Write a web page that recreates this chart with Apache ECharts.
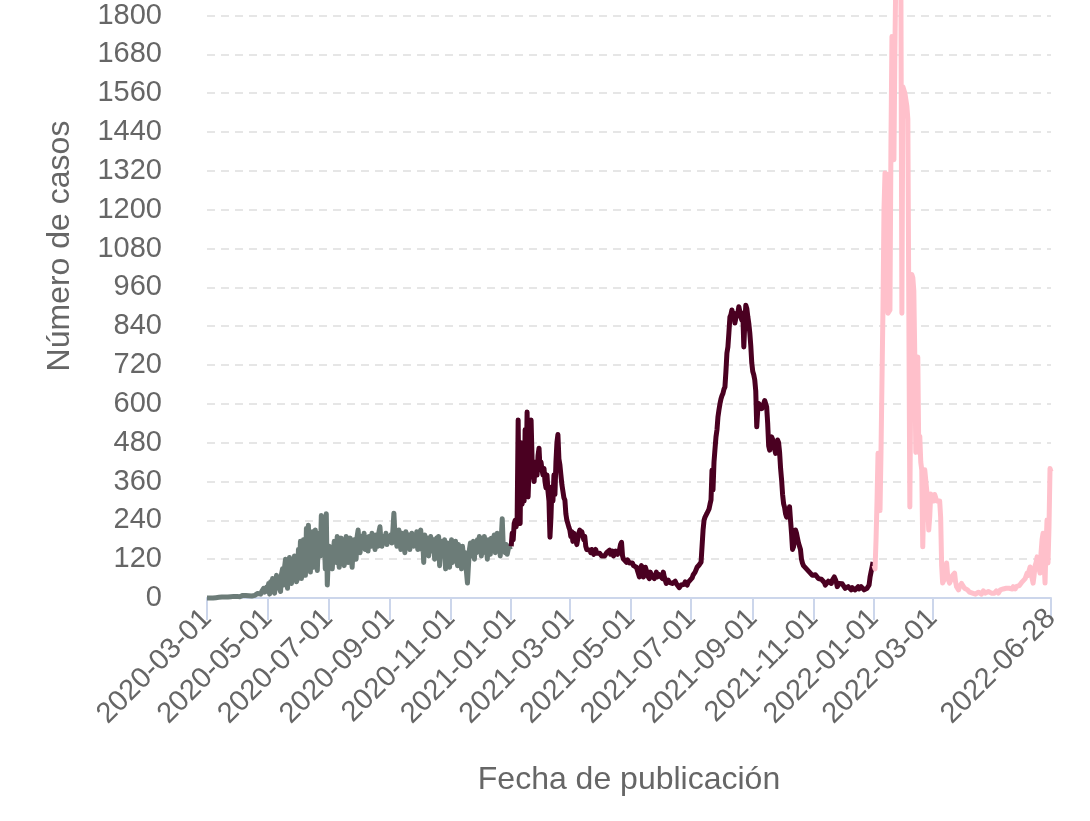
<!DOCTYPE html>
<html><head><meta charset="utf-8">
<script src="https://cdn.jsdelivr.net/npm/echarts@6/dist/echarts.min.js"></script>
<style>html,body{margin:0;padding:0;background:#fff}#c{width:1090px;height:821px}</style>
</head><body><div id="c"></div>
<script>
// ---- data (daily cases) ----
const startDate = '2020-03-01';
const tickLabels = ['2020-03-01','2020-05-01','2020-07-01','2020-09-01','2020-11-01','2021-01-01','2021-03-01','2021-05-01','2021-07-01','2021-09-01','2021-11-01','2022-01-01','2022-03-01','2022-06-28'];
const yMin = 0, yMax = 1800, yStep = 120;

// segment 1 (grey): 2020-03-01 .. 2020-12-31
const mar20 = [0,0,0,0,0,0,0,1,0,1,1,1,2,1,2,3,2,3,3,2,4,3,4,5,4,5,6,5,4,6,5];
const apr20 = [5,6,4,7,6,8,5,7,8,6,9,7,10,8,6,9,11,8,12,10,14,9,16,12,20,14,30,18,15,34];
const may20 = [20,45,12,50,30,60,25,15,55,70,35,60,28,20,75,90,40,95,120,60,30,110,125,70,45,100,80,130,110,50,60];
const jun20 = [150,90,175,60,120,180,100,70,215,140,225,110,80,190,205,95,150,210,120,85,180,200,130,255,140,250,180,90,260,40];
const jul20 = [120,160,100,150,90,140,175,165,110,190,130,95,150,185,170,120,100,160,190,140,110,175,185,130,95,150,180,160,120,190,210];
const aug20 = [170,140,190,160,180,200,150,165,185,145,190,175,160,200,170,180,150,195,185,160,205,220,175,160,190,170,180,200,165,185,175];
const sep20 = [180,195,170,210,262,200,185,160,175,210,190,150,200,170,190,140,205,180,165,195,150,185,200,170,160,190,175,205,150,185];
const oct20 = [200,210,150,180,110,195,170,160,185,130,175,190,145,165,180,120,170,185,150,190,100,140,175,160,130,180,90,150,170,120,95];
const nov20 = [140,180,110,160,130,175,150,100,165,120,150,90,160,130,110,140,80,46,100,150,170,130,160,175,120,165,140,180,150,190];
const dec20 = [160,130,175,150,190,140,165,120,180,155,135,185,150,170,195,140,160,200,150,175,130,185,245,160,150,140,165,135,150,160,150];

// segment 2 (maroon): 2021-01-01 .. 2021-12-31
const jan21 = [160,200,180,230,240,220,250,550,260,230,480,290,350,300,520,380,575,312,400,480,550,430,386,360,400,420,380,440,463,400,420];
const feb21 = [395,380,400,360,340,380,330,300,188,250,343,300,380,320,420,480,505,430,411,380,350,330,310,303,260,240,230,219];
const mar21 = [210,190,205,175,200,195,180,165,170,200,210,195,205,200,180,190,160,150,145,155,148,140,150,145,135,140,150,138,142,135,138];
const apr21 = [140,130,135,125,130,127,140,145,140,148,135,140,145,130,138,145,140,135,130,150,165,172,130,120,117,115,110,118,112,108];
const may21 = [110,105,108,100,104,98,95,100,75,65,90,100,80,65,70,95,85,70,75,60,80,70,65,75,60,70,80,65,60,72,75];
const jun21 = [70,60,80,65,55,45,50,55,48,42,50,45,40,48,52,45,40,45,32,28,40,45,38,42,50,45,40,48,52,55];
const jul21 = [55,62,71,68,80,85,95,100,102,108,111,115,210,240,250,255,262,258,275,290,303,395,334,420,460,498,520,560,581,600,615];
const aug21 = [625,632,645,652,700,757,776,820,868,875,890,870,880,850,865,859,880,900,885,870,859,880,776,850,905,895,870,849,820,780,726];
const sep21 = [700,690,674,640,529,580,601,595,600,585,591,600,610,612,590,540,470,457,480,498,490,470,460,447,470,488,480,450,400,365];
const oct21 = [320,292,280,260,250,270,255,282,240,200,150,158,190,210,200,185,170,175,150,120,108,100,105,94,90,85,88,80,78,75,70];
const nov21 = [65,70,72,74,68,60,62,56,58,55,56,48,40,35,45,52,56,50,45,55,60,65,58,50,35,38,45,50,46,44];
const dec21 = [46,40,30,25,28,35,38,30,25,32,28,35,25,22,30,35,28,32,35,30,38,25,20,24,30,35,40,65,80,95,111];

// segment 3 (pink): 2022-01-01 .. 2022-06-28
const jan22 = [100,90,180,300,447,440,270,450,447,900,1200,1313,1300,1310,880,880,890,1400,1735,1700,1354,1700,1950,1920,2000,1980,1950,1900,880,1580,1570];
const feb22 = [1560,1540,1520,1480,880,281,700,1000,990,950,745,450,600,745,450,500,420,396,158,300,396,390,396,300,210,250,321,320];
const mar22 = [321,300,320,310,300,305,300,300,250,100,46,50,60,80,108,70,55,46,50,60,70,75,77,50,35,30,25,35,40,45,46];
const apr22 = [40,30,25,30,25,20,18,15,12,15,20,18,12,10,15,18,20,15,12,18,22,20,15,12,18,20,25,18,15,20];
const may22 = [18,15,20,22,18,15,20,25,22,20,28,25,22,30,28,25,30,35,32,28,35,30,28,35,32,30,38,35,40,50,56];
const jun22 = [50,60,65,77,70,85,96,80,60,46,70,100,110,127,100,90,77,140,180,200,120,46,160,241,108,220,400,390];

const seg1 = [].concat(mar20,apr20,may20,jun20,jul20,aug20,sep20,oct20,nov20,dec20);
const seg2 = [].concat(jan21,feb21,mar21,apr21,may21,jun21,jul21,aug21,sep21,oct21,nov21,dec21);
const seg3 = [].concat(jan22,feb22,mar22,apr22,may22,jun22);

// ---- build ----
const total = seg1.length + seg2.length + seg3.length;
const t0 = Date.UTC(2020, 2, 1);
const dates = [];
for (let i = 0; i < total; i++) dates.push(new Date(t0 + i * 86400000).toISOString().slice(0, 10));
const nulls = n => new Array(n).fill(null);
const d1 = seg1.concat(nulls(total - seg1.length));
const d2 = nulls(seg1.length).concat(seg2, nulls(seg3.length));
const d3 = nulls(seg1.length + seg2.length).concat(seg3);
const tickSet = new Set(tickLabels);
const showTick = (idx, val) => tickSet.has(val);

const FONT = 'Liberation Sans, Arial, Helvetica, sans-serif';
const chart = echarts.init(document.getElementById('c'), null, {renderer: 'canvas'});
const mk = (name, data, color) => ({
  name, type: 'line', data, showSymbol: false, symbol: 'none', connectNulls: false, clip: false,
  lineStyle: {color, width: 5, join: 'round'}, itemStyle: {color}, z: 3, animation: false
});
chart.setOption({
  animation: false,
  backgroundColor: '#ffffff',
  grid: {left: 207, right: 39, top: 15.5, bottom: 223, containLabel: false},
  graphic: [{
    type: 'text', x: 60, y: 246, rotation: Math.PI / 2,
    style: {text: 'Número de casos', fontSize: 32, fill: '#666666', fontFamily: FONT, align: 'center', verticalAlign: 'middle'}
  }],
  xAxis: {
    type: 'category', data: dates, boundaryGap: false,
    name: 'Fecha de publicación', nameLocation: 'middle', nameGap: 166,
    nameTextStyle: {fontSize: 32, color: '#666666', fontFamily: FONT},
    axisLine: {lineStyle: {color: '#ccd6eb', width: 2}},
    axisTick: {show: true, interval: showTick, length: 22, lineStyle: {color: '#ccd6eb', width: 2}},
    axisLabel: {interval: showTick, rotate: 45, margin: 16, fontSize: 29, color: '#666666', fontFamily: FONT},
    splitLine: {show: false}
  },
  yAxis: {
    type: 'value', min: yMin, max: yMax, interval: yStep,
    axisLine: {show: false}, axisTick: {show: false},
    axisLabel: {margin: 45, fontSize: 29, color: '#666666', fontFamily: FONT, formatter: v => String(v)},
    splitLine: {show: true, lineStyle: {color: '#e6e6e6', width: 2, type: [8, 6]}}
  },
  series: [mk('2020', d1, '#6c7c78'), mk('2021', d2, '#4a0021'), mk('2022', d3, '#ffc0cb')]
});
</script>
</body></html>
